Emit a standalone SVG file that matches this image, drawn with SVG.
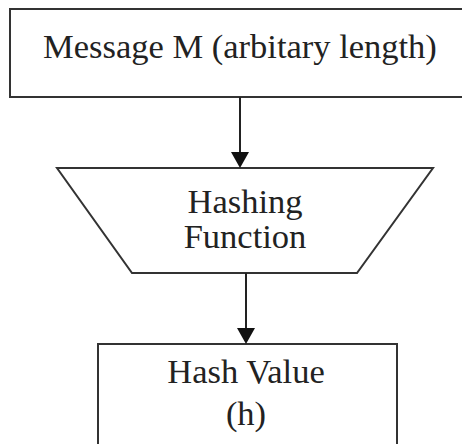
<svg xmlns="http://www.w3.org/2000/svg" width="462" height="444" viewBox="0 0 462 444">
<style>
.s{fill:#fff;stroke:#333;stroke-width:2}
.t{font-family:"Liberation Serif","Times New Roman",serif;font-size:34.5px;fill:#222;text-anchor:middle}
.c{stroke:#222;stroke-width:2;fill:none}
</style>
<defs>
<marker id="a" markerWidth="8" markerHeight="9" refX="7" refY="4.5" orient="auto" markerUnits="strokeWidth"><path d="M0,0 L8,4.5 L0,9 Z" fill="#111"/></marker>
</defs>
<rect width="462" height="444" fill="#fff"/>
<g id="message">
<rect class="s" x="10" y="9" width="460" height="88"/>
<text class="t" x="240" y="58">Message M (arbitary length)</text>
</g>
<g id="hashing">
<polygon class="s" points="57,168 433,168 357,273 132,273"/>
<text class="t" x="245" y="213">Hashing</text>
<text class="t" x="245" y="248">Function</text>
</g>
<g id="hashvalue">
<rect class="s" x="98" y="344" width="299" height="110"/>
<text class="t" x="246" y="383">Hash Value</text>
<text class="t" x="246" y="425">(h)</text>
</g>
<g id="connectors">
<line class="c" x1="240" y1="97" x2="240" y2="166" marker-end="url(#a)"/>
<line class="c" x1="246" y1="273" x2="246" y2="342" marker-end="url(#a)"/>
</g>
</svg>
